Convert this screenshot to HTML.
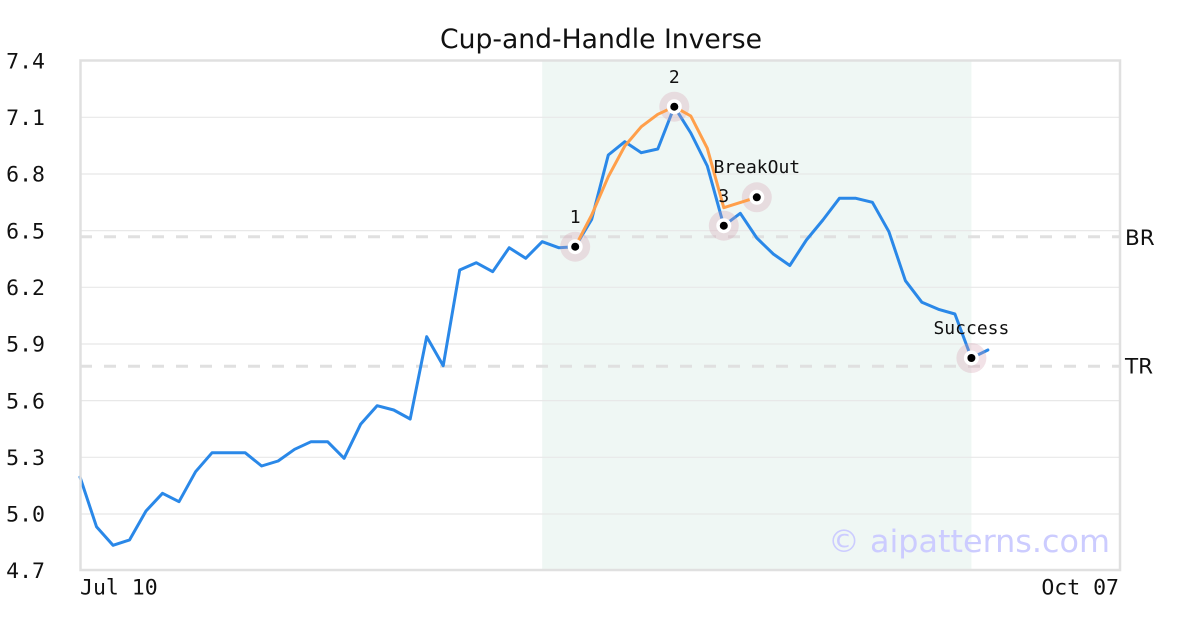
<!DOCTYPE html>
<html>
<head>
<meta charset="utf-8">
<style>
html,body{margin:0;padding:0;background:#fff;}
svg{display:block;}
.mono{font-family:"DejaVu Sans Mono","Liberation Mono",monospace;}
.sans{font-family:"DejaVu Sans","Liberation Sans",sans-serif;}
</style>
</head>
<body>
<svg width="1200" height="630" viewBox="0 0 1200 630" xmlns="http://www.w3.org/2000/svg">
  <rect x="0" y="0" width="1200" height="630" fill="#ffffff"/>
  <!-- shaded pattern region -->
  <rect x="542.2" y="60.6" width="429.2" height="510" fill="#eff7f4"/>
  <!-- gridlines -->
  <g stroke="#e8e8e8" stroke-width="1.2">
    <line x1="80" x2="1120" y1="117.3" y2="117.3"/>
    <line x1="80" x2="1120" y1="174" y2="174"/>
    <line x1="80" x2="1120" y1="230.6" y2="230.6"/>
    <line x1="80" x2="1120" y1="287.3" y2="287.3"/>
    <line x1="80" x2="1120" y1="344" y2="344"/>
    <line x1="80" x2="1120" y1="400.6" y2="400.6"/>
    <line x1="80" x2="1120" y1="457.3" y2="457.3"/>
    <line x1="80" x2="1120" y1="514" y2="514"/>
  </g>
  <!-- BR / TR dashed -->
  <g stroke="#e0e0e0" stroke-width="3" stroke-dasharray="12 12">
    <line x1="80" x2="1120" y1="236.8" y2="236.8"/>
    <line x1="80" x2="1120" y1="366.2" y2="366.2"/>
  </g>
  <!-- watermark -->
  <text x="1110" y="552" text-anchor="end" class="sans" font-size="31" fill="#ccccff" textLength="282" lengthAdjust="spacingAndGlyphs">© aipatterns.com</text>
  <!-- blue series -->
  <polyline fill="none" stroke="#2a88e8" stroke-width="3" stroke-linejoin="round" stroke-linecap="round"
    points="80,477 96.5,526.7 113,545.3 129.5,540 146,511 162.5,493.3 179,501.7 195.6,471.7 212.1,452.7 228.6,452.7 245.1,452.7 261.6,466 278.1,461 294.6,449.3 311.1,441.7 327.6,441.7 344.1,458.3 360.6,424.3 377.1,405.7 393.7,410 410.2,419 426.7,336.7 443.2,365.7 459.7,270 476.2,262.7 492.7,271.7 509.2,247.7 525.7,258.3 542.2,241.7 558.7,247.7 575.2,246.7 591.7,219.3 608.3,155 624.8,141.7 641.3,152.7 657.8,149 674.3,106.7 690.8,133 707.3,166 723.8,225.7 740.3,213.3 756.8,238 773.3,254 789.8,265.5 806.4,240 822.9,220 839.4,198.3 855.9,198.3 872.4,202.3 888.9,231.7 905.4,280.7 921.9,302.3 938.4,309.3 954.9,314 971.4,358 987.9,350"/>
  <!-- halos -->
  <g fill="#d4a0b0" fill-opacity="0.3">
    <circle cx="575.2" cy="246.7" r="15"/>
    <circle cx="674.3" cy="106.7" r="15"/>
    <circle cx="723.8" cy="225.7" r="15"/>
    <circle cx="756.8" cy="197.3" r="15"/>
    <circle cx="971.4" cy="358" r="15"/>
  </g>
  <!-- orange series -->
  <polyline fill="none" stroke="#ff9f4a" stroke-width="3" stroke-linejoin="round" stroke-linecap="round"
    points="575.2,246.7 591.7,215 608.3,176.7 624.8,146 641.3,126.7 657.8,114.3 674.3,106.7 690.8,116 707.3,148.3 723.8,207.7 756.8,197.3"/>
  <!-- marker centres -->
  <g fill="#ffffff">
    <circle cx="575.2" cy="246.7" r="7.5"/>
    <circle cx="674.3" cy="106.7" r="7.5"/>
    <circle cx="723.8" cy="225.7" r="7.5"/>
    <circle cx="756.8" cy="197.3" r="7.5"/>
    <circle cx="971.4" cy="358" r="7.5"/>
  </g>
  <g fill="#000000">
    <circle cx="575.2" cy="246.7" r="4"/>
    <circle cx="674.3" cy="106.7" r="4"/>
    <circle cx="723.8" cy="225.7" r="4"/>
    <circle cx="756.8" cy="197.3" r="4"/>
    <circle cx="971.4" cy="358" r="4"/>
  </g>
  <!-- point labels -->
  <g class="mono" font-size="18" fill="#111" text-anchor="middle">
    <text x="575.2" y="223">1</text>
    <text x="674.3" y="83">2</text>
    <text x="723.8" y="202">3</text>
    <text x="756.8" y="173">BreakOut</text>
    <text x="971.4" y="334">Success</text>
  </g>
  <!-- plot border -->
  <rect x="80.5" y="60.5" width="1039.5" height="509.5" fill="none" stroke="#e0e0e0" stroke-width="2.5"/>
  <!-- y tick labels -->
  <g class="mono" font-size="21.5" fill="#111" text-anchor="end">
    <text x="45" y="68.3">7.4</text>
    <text x="45" y="125">7.1</text>
    <text x="45" y="181.6">6.8</text>
    <text x="45" y="238.3">6.5</text>
    <text x="45" y="295">6.2</text>
    <text x="45" y="351.6">5.9</text>
    <text x="45" y="408.3">5.6</text>
    <text x="45" y="465">5.3</text>
    <text x="45" y="521.6">5.0</text>
    <text x="45" y="578">4.7</text>
  </g>
  <!-- x tick labels -->
  <g class="mono" font-size="21.5" fill="#111">
    <text x="80" y="594.5">Jul 10</text>
    <text x="1119" y="594.5" text-anchor="end">Oct 07</text>
  </g>
  <!-- BR / TR labels -->
  <g class="sans" font-size="21.5" fill="#111">
    <text x="1125" y="245">BR</text>
    <text x="1125" y="373.5">TR</text>
  </g>
  <!-- title -->
  <text x="440" y="48" class="sans" font-size="26.5" fill="#111" textLength="322" lengthAdjust="spacingAndGlyphs">Cup-and-Handle Inverse</text>
</svg>
</body>
</html>
